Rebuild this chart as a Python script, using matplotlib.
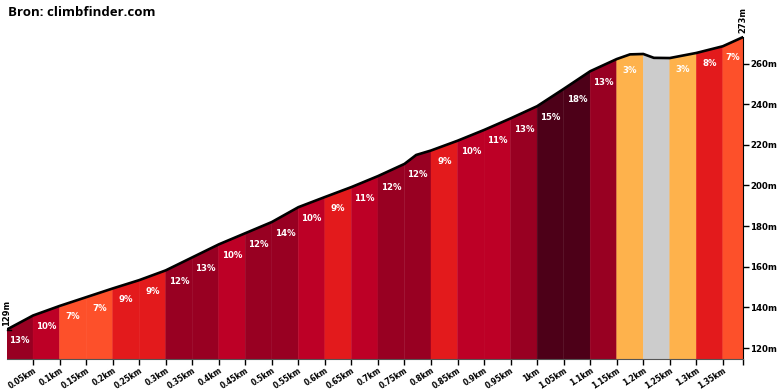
import matplotlib
matplotlib.use("Agg")
import matplotlib.pyplot as plt
from matplotlib.patches import Polygon

# profiel (afstand in km, hoogte in m)
dist_km = [0.0, 0.05, 0.1, 0.15, 0.2, 0.25, 0.3, 0.35, 0.4, 0.45, 0.5, 0.55, 0.6,
           0.65, 0.7, 0.75, 0.772, 0.8, 0.85, 0.9, 0.95, 1.0, 1.05, 1.1, 1.15,
           1.175, 1.2, 1.22, 1.25, 1.3, 1.35, 1.388]
elev_m = [129.0, 136.0, 140.7, 145.0, 149.3, 153.4, 158.2, 164.6, 171.0, 176.5,
          182.0, 189.3, 194.3, 199.2, 204.6, 210.6, 215.0, 217.2, 222.0, 227.3,
          233.0, 239.0, 247.5, 256.2, 262.2, 264.5, 264.7, 262.8, 262.7, 265.2,
          268.5, 273.0]

# segmenten van 50 m met hun stijging
seg_start = [0.0, 0.05, 0.1, 0.15, 0.2, 0.25, 0.3, 0.35, 0.4, 0.45, 0.5, 0.55, 0.6,
             0.65, 0.7, 0.75, 0.8, 0.85, 0.9, 0.95, 1.0, 1.05, 1.1, 1.15, 1.2,
             1.25, 1.3, 1.35]
seg_grade = [13, 10, 7, 7, 9, 9, 12, 13, 10, 12, 14, 10, 9, 11, 12, 12, 9, 10, 11,
             13, 15, 18, 13, 3, None, 3, 8, 7]

tick_km = [0.05, 0.1, 0.15, 0.2, 0.25, 0.3, 0.35, 0.4, 0.45, 0.5, 0.55, 0.6, 0.65,
           0.7, 0.75, 0.8, 0.85, 0.9, 0.95, 1.0, 1.05, 1.1, 1.15, 1.2, 1.25, 1.3, 1.35]
tick_labels = ['0.05km', '0.1km', '0.15km', '0.2km', '0.25km', '0.3km', '0.35km',
               '0.4km', '0.45km', '0.5km', '0.55km', '0.6km', '0.65km', '0.7km',
               '0.75km', '0.8km', '0.85km', '0.9km', '0.95km', '1km', '1.05km',
               '1.1km', '1.15km', '1.2km', '1.25km', '1.3km', '1.35km']
y_ticks = [120, 140, 160, 180, 200, 220, 240, 260]


def grade_color(g):
    # kleurschaal zoals climbfinder
    if g is None:
        return '#cccccc'
    if g <= 4:
        return '#feb24c'
    if g <= 7:
        return '#fd502a'
    if g <= 9:
        return '#e31a1c'
    if g <= 11:
        return '#bd0026'
    if g <= 14:
        return '#980022'
    return '#4d0018'


ymin, ymax = 114.6, 276.5
total = dist_km[-1]

fig = plt.figure(figsize=(7.8, 3.9), dpi=100)
ax = fig.add_axes([6.5 / 780, 31 / 390, (743 - 6.5) / 780, 329 / 390])
ax.set_xlim(0, total)
ax.set_ylim(ymin, ymax)

# gekleurde segmenten
ends = seg_start[1:] + [total]
for s, e, g in zip(seg_start, ends, seg_grade):
    pts = [(d, h) for d, h in zip(dist_km, elev_m) if s - 1e-9 <= d <= e + 1e-9]
    poly = [(s, ymin)] + pts + [(e, ymin)]
    c = grade_color(g)
    ax.add_patch(Polygon(poly, closed=True, facecolor=c, edgecolor=c, lw=0.3,
                         zorder=1))
    if g is not None:
        h0 = elev_m[dist_km.index(s)]
        ax.text((s + e) / 2, h0 - 5.4, f'{g}%', color='white', fontsize=6.2,
                fontweight='bold', ha='center', va='center', zorder=3)

ax.plot(dist_km, elev_m, color='black', lw=1.9, zorder=4,
        solid_capstyle='round', solid_joinstyle='round')

# assen
for side in ['left', 'top']:
    ax.spines[side].set_visible(False)
ax.spines['right'].set_bounds(ymin, elev_m[-1])
ax.spines['bottom'].set_color('#555555')
ax.yaxis.tick_right()
ax.set_yticks(y_ticks)
ax.set_yticklabels([f'{v}m' for v in y_ticks], fontsize=6.2, fontweight='bold')
ax.set_xticks(tick_km + [total])
ax.set_xticklabels(tick_labels + [''], fontsize=5.5, fontweight='bold',
                   rotation=33, ha='right', rotation_mode='anchor')
ax.tick_params(axis='both', length=4, width=1, pad=1)

# begin- en eindhoogte
ax.text(0.0, elev_m[0] + 2, f'{elev_m[0]:.0f}m', rotation=90, fontsize=6,
        fontweight='bold', ha='center', va='bottom', clip_on=False)
ax.plot([0, 0.008], [elev_m[0], elev_m[0]], color='black', lw=1, clip_on=False)
ax.text(total, elev_m[-1] + 2, f'{elev_m[-1]:.0f}m', rotation=90, fontsize=6,
        fontweight='bold', ha='center', va='bottom', clip_on=False)

fig.text(8 / 780, 1 - 13 / 390, 'Bron: climbfinder.com', fontsize=9.5,
         fontweight='bold', family=['Open Sans', 'DejaVu Sans'], va='center')

fig.savefig('out.png', dpi=100)
